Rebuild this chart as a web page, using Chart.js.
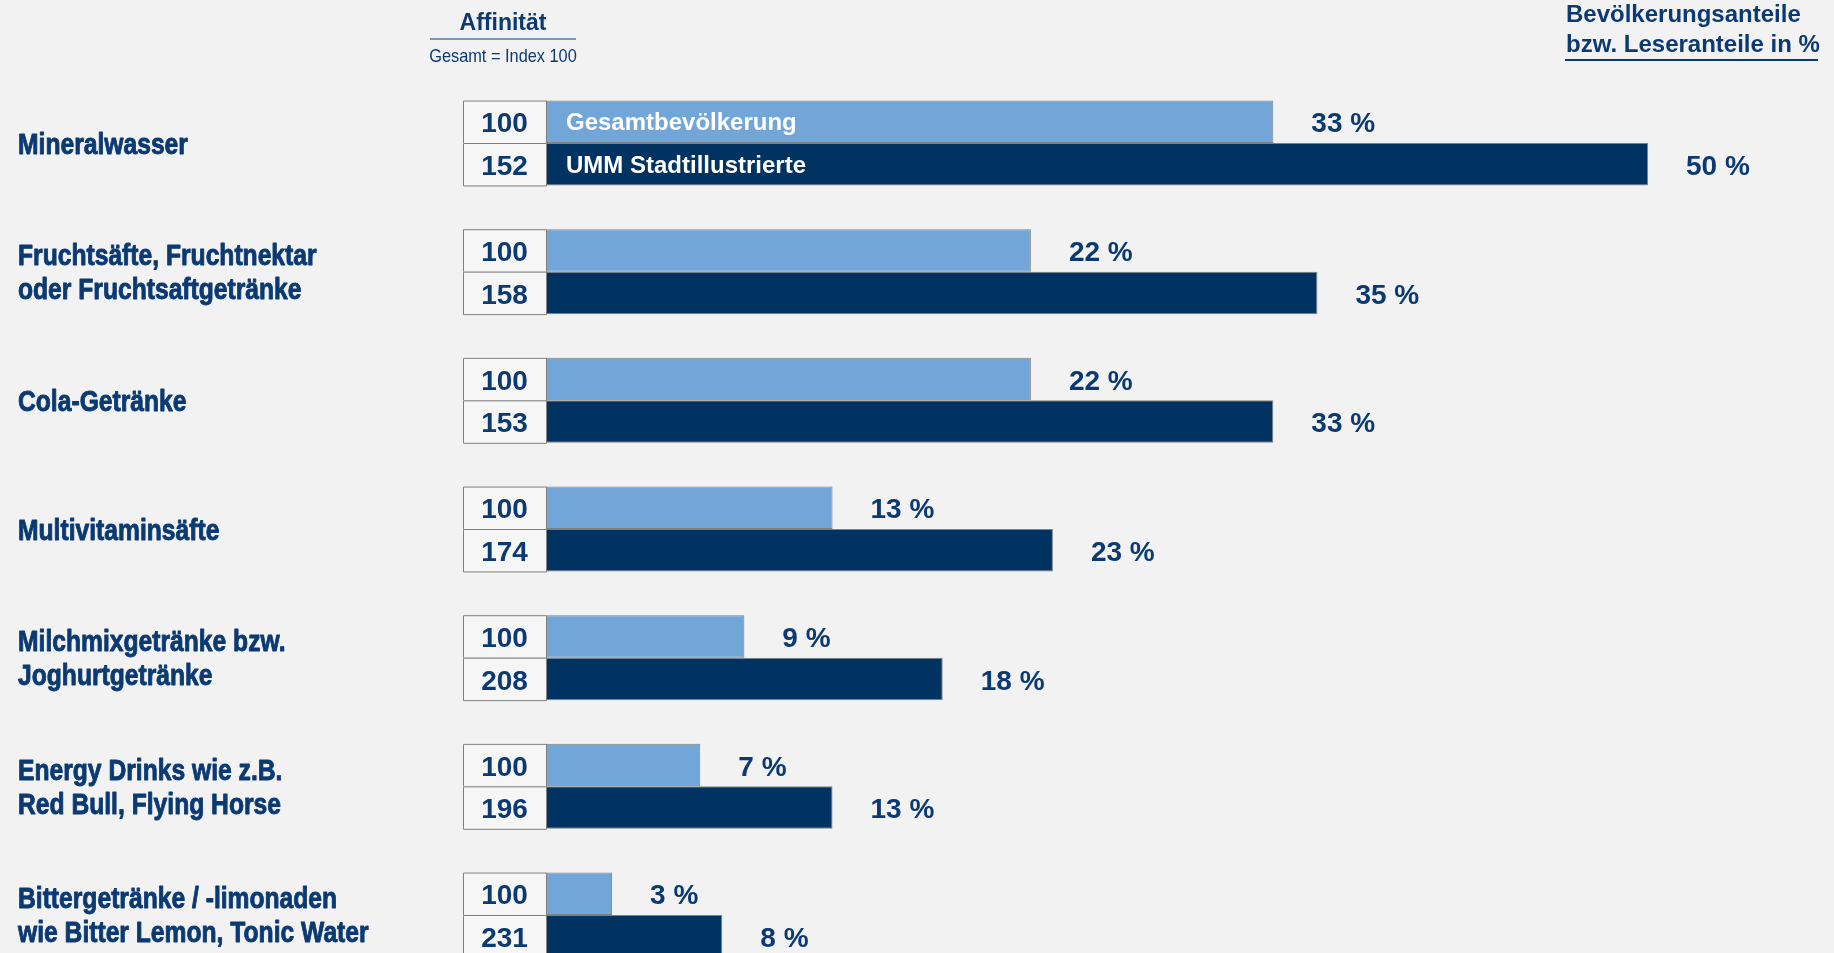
<!DOCTYPE html>
<html lang="de">
<head>
<meta charset="utf-8">
<title>Affinität Getränke</title>
<script src="https://cdn.jsdelivr.net/npm/chart.js@4.4.1/dist/chart.umd.min.js"></script>
<style>
  html, body { margin: 0; padding: 0; background: #f2f2f2; overflow: hidden; }
  #wrap { position: relative; width: 1834px; height: 1000px; }
  #wrap canvas { position: absolute; left: 0; top: 0; }
  .hd { position: absolute; color: #0b3a72; white-space: nowrap; }
  #aff { left: 403px; width: 200px; top: 10.5px; text-align: center; font: bold 23px/22px "Liberation Sans", Arial, sans-serif; }
  #affLine { position: absolute; left: 430px; top: 37.7px; width: 146px; height: 2px; background: #7b97b6; }
  #affSub { left: 403px; width: 200px; top: 46px; text-align: center; font: 19px/19px "Liberation Sans", Arial, sans-serif; transform: scaleX(0.86); }
  #share { left: 1566px; top: -0.6px; font: bold 24px/30px "Liberation Sans", Arial, sans-serif; }
  #shareLine { position: absolute; left: 1565px; top: 58.5px; width: 253px; height: 2px; background: #0b3a72; }
</style>
</head>
<body>
<div id="wrap">
  <canvas id="chart" width="1834" height="1000"></canvas>
  <div class="hd" id="aff">Affinität</div>
  <div id="affLine"></div>
  <div class="hd" id="affSub">Gesamt = Index 100</div>
  <div class="hd" id="share">Bevölkerungsanteile<br>bzw. Leseranteile in %</div>
  <div id="shareLine"></div>
</div>
<script>
const categories = [
  ["Mineralwasser"],
  ["Fruchtsäfte, Fruchtnektar", "oder Fruchtsaftgetränke"],
  ["Cola-Getränke"],
  ["Multivitaminsäfte"],
  ["Milchmixgetränke bzw.", "Joghurtgetränke"],
  ["Energy Drinks wie z.B.", "Red Bull, Flying Horse"],
  ["Bittergetränke / -limonaden", "wie Bitter Lemon, Tonic Water"],
];
const seriesNames = ["Gesamtbevölkerung", "UMM Stadtillustrierte"];
const anteilGesamt = [33, 22, 22, 13, 9, 7, 3];
const anteilUmm = [50, 35, 33, 23, 18, 13, 8];
const indexGesamt = [100, 100, 100, 100, 100, 100, 100];
const indexUmm = [152, 158, 153, 174, 208, 196, 231];

const NAVY = "#0b3a72";
const indices = [indexGesamt, indexUmm];

// Kategorien links (schmal gesetzt), Indexkästchen, Prozentwerte, Serienname im ersten Balken
const labelsPlugin = {
  id: "labels",
  afterDatasetsDraw(chart) {
    const ctx = chart.ctx;
    const yScale = chart.scales.y;
    const x0 = chart.scales.x.getPixelForValue(0);
    const boxW = 83;
    ctx.save();

    ctx.fillStyle = NAVY;
    ctx.strokeStyle = NAVY;
    ctx.lineWidth = 0.9;
    ctx.lineJoin = "round";
    ctx.font = "bold 29px 'Liberation Sans', Arial, sans-serif";
    ctx.textAlign = "left";
    ctx.textBaseline = "alphabetic";
    chart.data.labels.forEach((lines, i) => {
      const cy = yScale.getPixelForValue(i);
      lines.forEach((line, k) => {
        const base = cy + 10.5 + (k - (lines.length - 1) / 2) * 34;
        ctx.save();
        ctx.translate(18, base);
        ctx.scale(0.85, 1);
        ctx.fillText(line, 0, 0);
        ctx.strokeText(line, 0, 0);
        ctx.restore();
      });
    });

    chart.data.datasets.forEach((ds, di) => {
      const meta = chart.getDatasetMeta(di);
      meta.data.forEach((bar, i) => {
        const { x, y, height } = bar.getProps(["x", "y", "height"], true);
        const top = y - height / 2;
        ctx.fillStyle = "#f6f6f6";
        ctx.fillRect(x0 - boxW, top, boxW, height);
        ctx.strokeStyle = "#808080";
        ctx.lineWidth = 1;
        ctx.strokeRect(x0 - boxW + 0.5, top + 0.5, boxW, height);
        ctx.fillStyle = NAVY;
        ctx.textBaseline = "middle";
        ctx.font = "bold 28px 'Liberation Sans', Arial, sans-serif";
        ctx.textAlign = "center";
        ctx.fillText(String(indices[di][i]), x0 - boxW / 2, y + 3);
        ctx.textAlign = "left";
        ctx.fillText(ds.data[i] + " %", x + 38, y + 3);
        if (i === 0) {
          ctx.fillStyle = "#ffffff";
          ctx.font = "bold 24px 'Liberation Sans', Arial, sans-serif";
          ctx.fillText(ds.label, x0 + 20, y + 2);
        }
      });
    });
    ctx.restore();
  },
};

new Chart(document.getElementById("chart"), {
  type: "bar",
  data: {
    labels: categories,
    datasets: [
      { label: seriesNames[0], data: anteilGesamt, backgroundColor: "#72a6d8", borderColor: "#808080", borderWidth: 1, borderSkipped: false },
      { label: seriesNames[1], data: anteilUmm, backgroundColor: "#003262", borderColor: "#808080", borderWidth: 1, borderSkipped: false },
    ],
  },
  options: {
    indexAxis: "y",
    responsive: false,
    animation: false,
    categoryPercentage: 0.66,
    barPercentage: 1.0,
    layout: { padding: { left: 546, right: 186, top: 78.67, bottom: 20.67 } },
    plugins: { legend: { display: false }, tooltip: { enabled: false } },
    scales: {
      x: { display: false, min: 0, max: 50 },
      y: { display: false },
    },
  },
  plugins: [labelsPlugin],
});
</script>
</body>
</html>
